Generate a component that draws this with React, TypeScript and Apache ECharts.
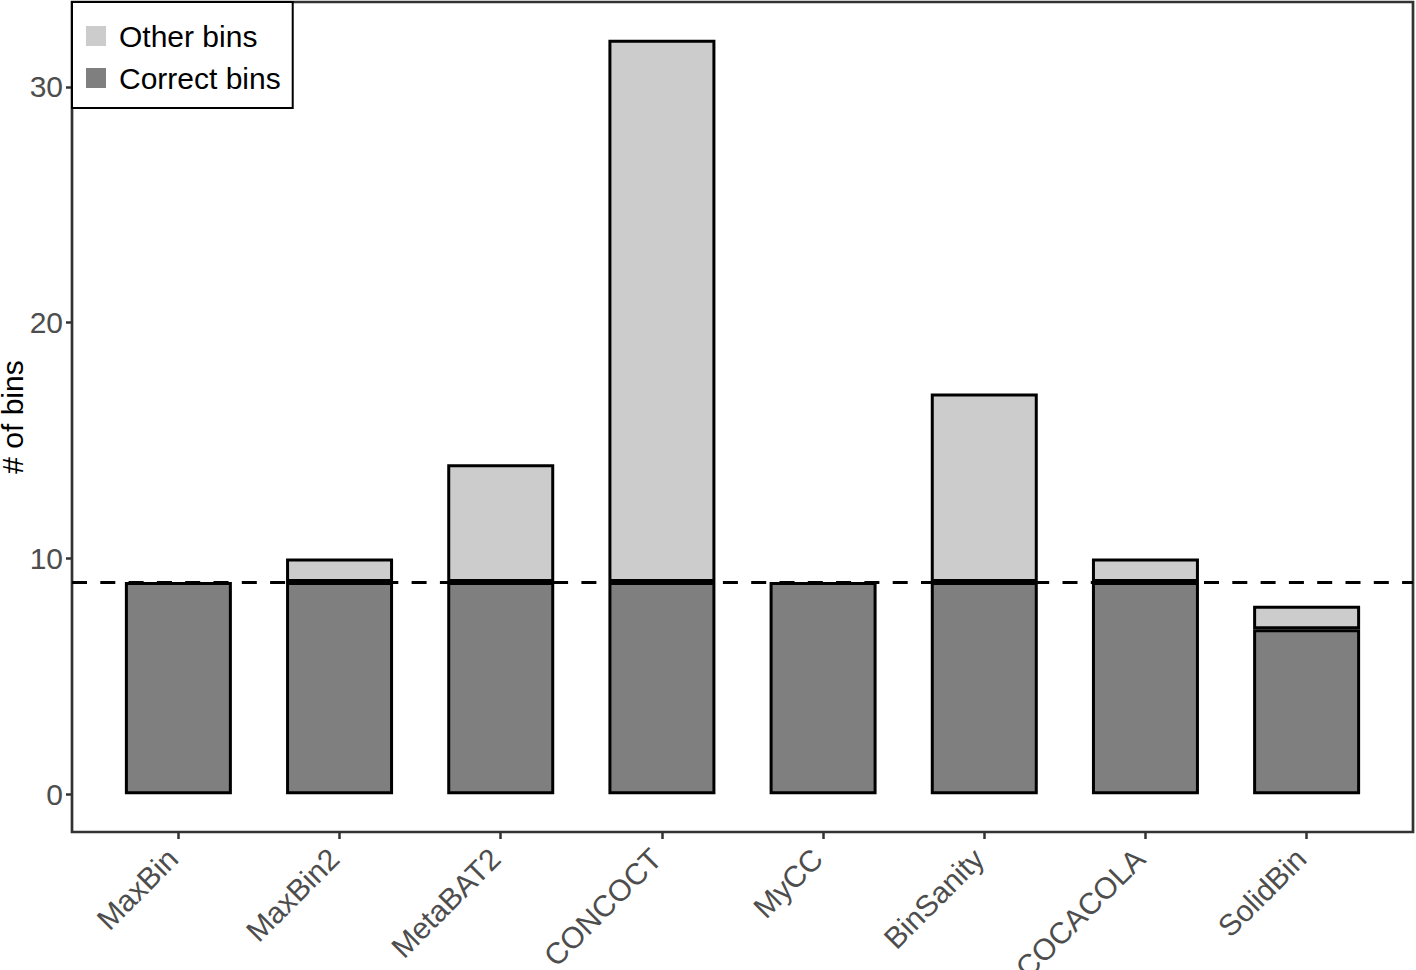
import React, { useEffect, useRef } from "react";
import * as echarts from "echarts";

const categories = ["MaxBin", "MaxBin2", "MetaBAT2", "CONCOCT", "MyCC", "BinSanity", "COCACOLA", "SolidBin"];
const correctBins = [9, 9, 9, 9, 9, 9, 9, 7];
const otherBins = [0, 1, 5, 23, 0, 8, 1, 1];
const yTicks = [0, 10, 20, 30];
const thresholdValue = 9;

const FONT = "'Liberation Sans', Arial, Helvetica, sans-serif";

export default function App() {
  const ref = useRef<HTMLDivElement>(null);
  useEffect(() => {
    if (!ref.current) return;
    const chart = echarts.init(ref.current, null, { renderer: "svg" });
    const idx = categories.map((_, i) => i);
    chart.setOption({
      animation: false,
      backgroundColor: "#ffffff",
      grid: {
        left: 72,
        right: 3,
        top: 2,
        bottom: 138,
        show: true,
        borderColor: "#333333",
        borderWidth: 2.7,
        backgroundColor: "transparent",
        containLabel: false,
        outerBoundsMode: "none",
      },
      legend: {
        orient: "vertical",
        left: 72,
        top: 2,
        selectedMode: false,
        data: ["Other bins", "Correct bins"],
        itemWidth: 20,
        itemHeight: 20,
        itemGap: 12,
        icon: "rect",
        backgroundColor: "#ffffff",
        borderColor: "#000000",
        borderWidth: 2,
        padding: [19, 12, 15, 14],
        itemStyle: { borderWidth: 0 },
        textStyle: {
          fontFamily: FONT,
          fontSize: 30,
          color: "#000000",
          lineHeight: 30,
          padding: [0, 0, 0, 8],
        },
      },
      xAxis: {
        type: "value",
        min: -0.66,
        max: 7.66,
        splitLine: { show: false },
        axisLine: { show: false, onZero: false },
        axisTick: {
          show: true,
          customValues: idx,
          length: 7,
          lineStyle: { color: "#333333", width: 2.5 },
        },
        axisLabel: {
          customValues: idx,
          formatter: (v: number) => categories[Math.round(v)] ?? "",
          rotate: 45,
          margin: 16,
          padding: [0, 8, 0, 0],
          hideOverlap: false,
          fontFamily: FONT,
          fontSize: 30,
          color: "#4d4d4d",
        },
      },
      yAxis: {
        type: "value",
        min: -1.6,
        max: 33.6,
        name: "# of bins",
        nameLocation: "middle",
        nameRotate: 90,
        nameGap: 45,
        nameMoveOverlap: false,
        nameTextStyle: { fontFamily: FONT, fontSize: 30, color: "#000000" },
        splitLine: { show: false },
        axisLine: { show: false, onZero: false },
        axisTick: {
          show: true,
          customValues: yTicks,
          length: 6,
          lineStyle: { color: "#333333", width: 2.5 },
        },
        axisLabel: {
          customValues: yTicks,
          margin: 9,
          fontFamily: FONT,
          fontSize: 30,
          color: "#4d4d4d",
        },
      },
      series: [
        {
          name: "Correct bins",
          type: "bar",
          stack: "bins",
          barWidth: 107,
          z: 2,
          encode: { x: 1, y: 0 },
          itemStyle: { color: "#7f7f7f", borderColor: "#000000", borderWidth: 3 },
          data: correctBins.map((v, i) => [v === 0 ? null : v, i]),
        },
        {
          name: "Other bins",
          type: "bar",
          stack: "bins",
          barWidth: 107,
          z: 2,
          encode: { x: 1, y: 0 },
          itemStyle: { color: "#cccccc", borderColor: "#000000", borderWidth: 3 },
          data: otherBins.map((v, i) => [v === 0 ? null : v, i]),
          markLine: {
            silent: true,
            symbol: "none",
            z: 10,
            label: { show: false },
            lineStyle: { color: "#000000", width: 3, type: [15, 13.3] },
            data: [{ yAxis: thresholdValue }],
          },
        },
      ],
    });
    return () => chart.dispose();
  }, []);
  return (
    <div
      ref={ref}
      style={{ position: "absolute", left: 0, top: 0, width: 1416, height: 970 }}
    />
  );
}
